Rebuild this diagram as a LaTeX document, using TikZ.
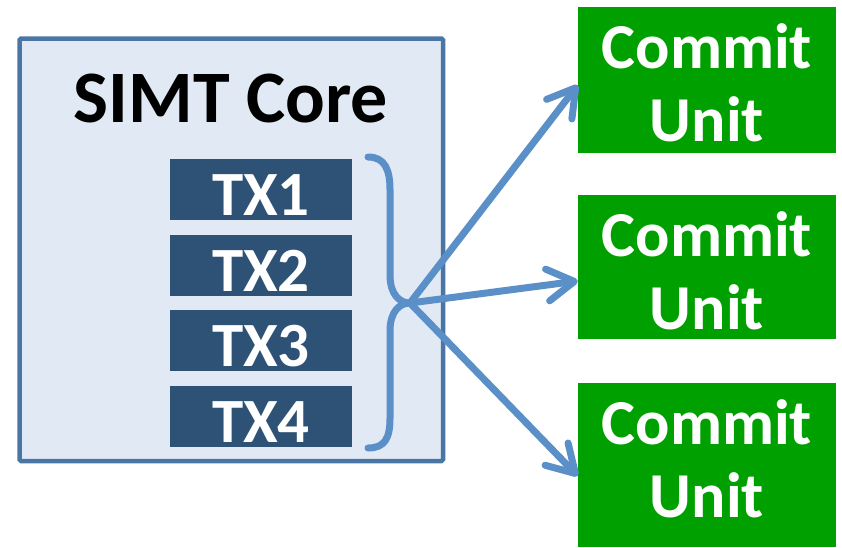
\documentclass[tikz,border=0pt]{standalone}
\usepackage{fontspec}
\setmainfont{Carlito}
\usetikzlibrary{arrows.meta}
\definecolor{coreborder}{HTML}{4A76A6}
\definecolor{corefill}{HTML}{E1E9F4}
\definecolor{txfill}{HTML}{2E5276}
\definecolor{linkblue}{HTML}{5B8FC8}
\definecolor{commitgreen}{HTML}{00A000}
\begin{document}
\begin{tikzpicture}[x=1pt,y=-1pt,
 corebox/.style={draw=coreborder, fill=corefill, line width=4.5pt, rounded corners=1.5pt, inner sep=0pt},
 txbox/.style={fill=txfill, text=white, font=\bfseries\fontsize{63}{63}\selectfont, minimum width=182pt, minimum height=61pt, inner sep=0pt, text height=51pt, text depth=0pt},
 commitbox/.style={fill=commitgreen, minimum width=258pt, inner sep=0pt},
 committext/.style={text=white, font=\bfseries\fontsize{64}{73}\selectfont, inner sep=0pt, align=center},
 link/.style={draw=linkblue, line width=7pt, line cap=round, line join=round},
 arrowlink/.style={link, -{Straight Barb[length=27pt,width=32pt,line cap=round,line join=round]}}
]
\useasboundingbox (0,0) rectangle (842,547);
\node (core) [corebox, minimum width=423.5pt, minimum height=422.5pt] at (231.25,249.75) {};
\node (title) [font=\bfseries\fontsize{74}{74}\selectfont, anchor=base, inner sep=0pt] at (231,122) {SIMT Core};
\node (tx1) [txbox] at (261,189.5) {TX1};
\node (tx2) [txbox] at (261,265.5) {TX2};
\node (tx3) [txbox] at (261,340.5) {TX3};
\node (tx4) [txbox] at (261,416.5) {TX4};
\node (cu1) [commitbox, minimum height=146pt] at (707,80) {};
\node (cu2) [commitbox, minimum height=144pt] at (707,267) {};
\node (cu3) [commitbox, minimum height=164pt] at (707,465) {};
\node (cu1t) [committext] at ([yshift=-76pt]cu1.north) {Commit\\Unit};
\node (cu2t) [committext] at ([yshift=-76pt]cu2.north) {Commit\\Unit};
\node (cu3t) [committext] at ([yshift=-76pt]cu3.north) {Commit\\Unit};
\coordinate (tip) at (410,303);
\draw[link] (368,157) .. controls (385,157) and (390,170) .. (390,190) -- (390,275)
  .. controls (390,295) and (400,303) .. (tip)
  .. controls (400,303) and (390,311) .. (390,331) -- (390,418)
  .. controls (390,438) and (385,448) .. (368,448);
\draw[arrowlink] (tip) -- ([yshift=-5pt]cu1.west);
\draw[arrowlink] (tip) -- ([yshift=-14pt]cu2.west);
\draw[arrowlink] (tip) -- ([yshift=-11pt]cu3.west);
\end{tikzpicture}
\end{document}
